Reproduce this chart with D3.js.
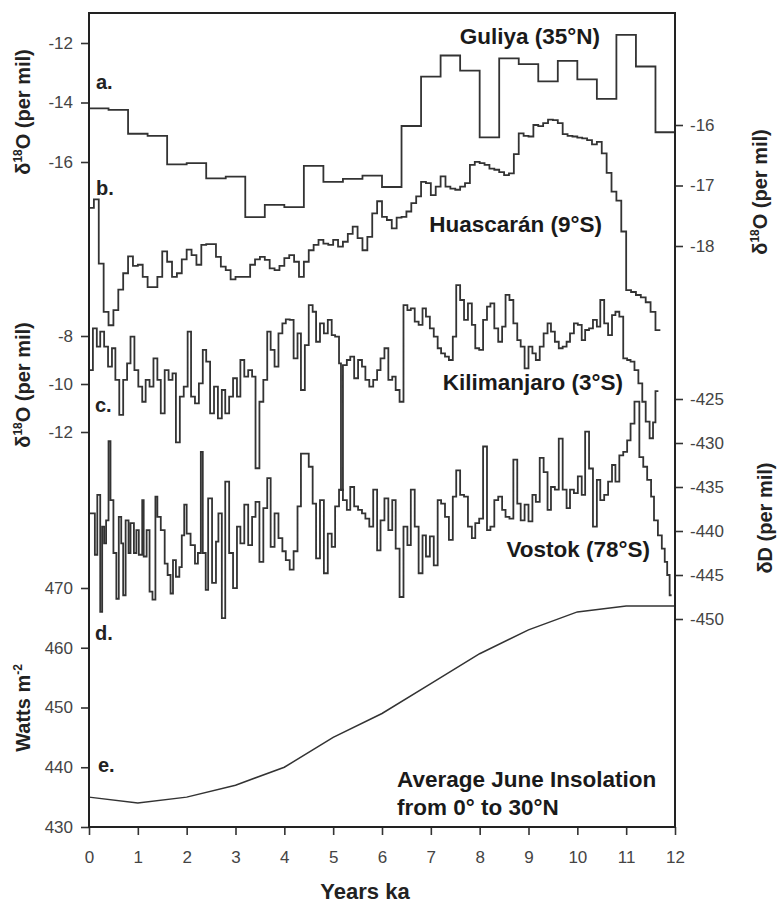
<!DOCTYPE html>
<html>
<head>
<meta charset="utf-8">
<script src="https://cdnjs.cloudflare.com/ajax/libs/d3/7.8.5/d3.min.js"></script>
<style>
body { margin: 0; background: #fff; }
svg text { font-family: "Liberation Sans", Arial, sans-serif; }
</style>
</head>
<body>
<svg id="chart"></svg>
<script>
// ---- data (ages in ka, step edges) ----

// a. Guliya d18O, 400-yr steps
var guliyaAge = [0, 0.4, 0.8, 1.2, 1.6, 2.0, 2.4, 2.8, 3.2, 3.6, 4.0, 4.4, 4.8, 5.2, 5.6, 6.0,
    6.4, 6.8, 7.2, 7.6, 8.0, 8.4, 8.8, 9.2, 9.6, 10.0, 10.4, 10.8, 11.2, 11.6, 12.0];
var guliyaD18O = [-14.2, -14.25, -15.05, -15.12, -16.08, -16.04, -16.55, -16.49, -17.85, -17.44,
    -17.52, -16.13, -16.67, -16.57, -16.46, -16.84, -14.79, -13.13, -12.42, -12.93,
    -15.17, -12.52, -12.71, -13.29, -12.6, -13.22, -13.88, -11.73, -12.79, -15.0];

// b. Huascaran d18O, 100-yr steps
var huascaranAge = [0, 0.1, 0.2, 0.3, 0.4, 0.5, 0.6, 0.7, 0.8, 0.9,
    1.0, 1.1, 1.2, 1.3, 1.4, 1.5, 1.6, 1.7, 1.8, 1.9,
    2.0, 2.1, 2.2, 2.3, 2.4, 2.5, 2.6, 2.7, 2.8, 2.9,
    3.0, 3.1, 3.2, 3.3, 3.4, 3.5, 3.6, 3.7, 3.8, 3.9,
    4.0, 4.1, 4.2, 4.3, 4.4, 4.5, 4.6, 4.7, 4.8, 4.9,
    5.0, 5.1, 5.2, 5.3, 5.4, 5.5, 5.6, 5.7, 5.8, 5.9,
    6.0, 6.1, 6.2, 6.3, 6.4, 6.5, 6.6, 6.7, 6.8, 6.9,
    7.0, 7.1, 7.2, 7.3, 7.4, 7.5, 7.6, 7.7, 7.8, 7.9,
    8.0, 8.1, 8.2, 8.3, 8.4, 8.5, 8.6, 8.7, 8.8, 8.9,
    9.0, 9.1, 9.2, 9.3, 9.4, 9.5, 9.6, 9.7, 9.8, 9.9,
    10.0, 10.1, 10.2, 10.3, 10.4, 10.5, 10.6, 10.7, 10.8, 10.9,
    11.0, 11.1, 11.2, 11.3, 11.4, 11.5, 11.6, 11.7];
var huascaranD18O = [-17.37, -17.23, -18.29, -19.09, -19.31, -19.06, -18.72, -18.45, -18.17, -18.33,
    -18.31, -18.51, -18.68, -18.68, -18.51, -18.09, -18.26, -18.51, -18.45, -18.22,
    -18.06, -18.15, -18.31, -17.98, -17.97, -17.97, -18.18, -18.34, -18.40, -18.55,
    -18.51, -18.51, -18.51, -18.31, -18.22, -18.18, -18.23, -18.37, -18.40, -18.33,
    -18.20, -18.15, -18.26, -18.51, -18.26, -18.07, -17.98, -17.90, -17.96, -17.98,
    -17.90, -18.01, -17.93, -17.80, -17.68, -17.87, -18.07, -17.85, -17.46, -17.26,
    -17.52, -17.57, -17.71, -17.53, -17.52, -17.43, -17.29, -17.18, -16.94, -16.96,
    -17.16, -17.02, -16.85, -17.02, -17.05, -17.07, -17.02, -16.96, -16.66, -16.61,
    -16.63, -16.66, -16.72, -16.74, -16.78, -16.83, -16.80, -16.48, -16.14, -16.18,
    -16.19, -16.00, -16.02, -15.97, -15.91, -15.92, -15.97, -16.15, -16.18, -16.19,
    -16.21, -16.22, -16.25, -16.32, -16.28, -16.47, -16.79, -17.10, -17.25, -17.76,
    -18.73, -18.76, -18.81, -18.85, -18.93, -19.09, -19.39];

// c. Kilimanjaro d18O
var kiliAge = [0.00, 0.08, 0.16, 0.23, 0.31, 0.39, 0.47, 0.54, 0.62, 0.70,
    0.78, 0.85, 0.93, 1.01, 1.09, 1.16, 1.24, 1.32, 1.40, 1.47,
    1.55, 1.63, 1.71, 1.78, 1.86, 1.94, 2.02, 2.09, 2.17, 2.25,
    2.33, 2.40, 2.48, 2.56, 2.64, 2.72, 2.79, 2.87, 2.95, 3.03,
    3.10, 3.18, 3.26, 3.34, 3.41, 3.49, 3.57, 3.65, 3.72, 3.80,
    3.88, 3.96, 4.03, 4.11, 4.19, 4.27, 4.34, 4.42, 4.50, 4.58,
    4.65, 4.73, 4.81, 4.89, 4.97, 5.04, 5.12, 5.16, 5.20, 5.28,
    5.35, 5.43, 5.51, 5.59, 5.66, 5.74, 5.82, 5.90, 5.97, 6.05,
    6.13, 6.21, 6.28, 6.36, 6.44, 6.52, 6.59, 6.67, 6.75, 6.83,
    6.90, 6.98, 7.06, 7.14, 7.21, 7.29, 7.37, 7.45, 7.52, 7.60,
    7.68, 7.76, 7.84, 7.91, 7.99, 8.07, 8.15, 8.22, 8.30, 8.38,
    8.46, 8.53, 8.61, 8.69, 8.77, 8.84, 8.92, 9.00, 9.08, 9.15,
    9.23, 9.31, 9.39, 9.46, 9.54, 9.62, 9.70, 9.78, 9.85, 9.93,
    10.01, 10.09, 10.16, 10.24, 10.32, 10.40, 10.47, 10.55, 10.63, 10.71,
    10.78, 10.86, 10.94, 11.02, 11.09, 11.17, 11.25, 11.33, 11.40, 11.48,
    11.55, 11.60, 11.66];
var kiliD18O = [-9.42, -7.68, -8.44, -7.82, -8.44, -9.28, -8.51, -9.83, -11.29, -9.83,
    -9.14, -8.03, -9.42, -10.11, -10.74, -9.83, -10.11, -8.93, -9.83, -11.22,
    -9.42, -9.83, -9.56, -12.43, -10.53, -10.11, -7.82, -10.53, -10.81, -9.97,
    -8.58, -9.07, -11.22, -10.11, -11.43, -10.25, -11.22, -10.53, -9.76, -10.53,
    -9.00, -9.69, -9.42, -9.69, -13.51, -10.74, -9.83, -7.82, -8.58, -9.28,
    -7.89, -7.47, -7.31, -7.33, -8.93, -7.89, -10.25, -8.38, -6.71, -6.99,
    -8.24, -7.47, -7.89, -7.33, -7.96, -8.03, -9.14, -14.42, -9.21, -9.00,
    -8.86, -9.76, -9.00, -9.28, -9.83, -10.11, -9.83, -9.42, -8.93, -8.51,
    -9.83, -9.69, -10.25, -10.74, -6.71, -6.92, -6.85, -7.40, -7.54, -6.85,
    -7.19, -7.68, -8.03, -8.51, -8.72, -8.86, -9.00, -8.03, -5.88, -6.50,
    -7.33, -6.64, -7.54, -8.51, -8.58, -7.33, -6.78, -6.64, -7.68, -8.24,
    -7.61, -6.29, -6.50, -7.47, -8.17, -8.44, -9.35, -8.44, -8.72, -9.00,
    -8.44, -7.89, -7.47, -7.82, -8.24, -8.51, -8.44, -8.24, -7.89, -7.47,
    -7.54, -8.17, -7.75, -7.68, -7.33, -7.61, -6.50, -7.47, -7.96, -7.13,
    -6.99, -7.19, -8.93, -9.00, -9.07, -9.42, -9.97, -10.74, -11.57, -12.26,
    -11.60, -10.30];

// d. Vostok dD
var vostokAge = [0.00, 0.12, 0.17, 0.23, 0.27, 0.31, 0.35, 0.40, 0.44, 0.50,
    0.56, 0.61, 0.66, 0.70, 0.75, 0.81, 0.85, 0.92, 0.97, 1.02,
    1.09, 1.12, 1.18, 1.24, 1.30, 1.36, 1.40, 1.47, 1.55, 1.61,
    1.67, 1.72, 1.78, 1.85, 1.90, 1.95, 2.00, 2.08, 2.17, 2.23,
    2.29, 2.33, 2.39, 2.44, 2.52, 2.60, 2.65, 2.72, 2.79, 2.87,
    2.95, 3.03, 3.10, 3.18, 3.26, 3.34, 3.41, 3.49, 3.57, 3.65,
    3.72, 3.80, 3.88, 3.96, 4.03, 4.11, 4.19, 4.27, 4.34, 4.50,
    4.58, 4.65, 4.73, 4.81, 4.89, 4.97, 5.04, 5.12, 5.20, 5.28,
    5.35, 5.43, 5.51, 5.59, 5.66, 5.74, 5.82, 5.90, 5.97, 6.05,
    6.13, 6.21, 6.28, 6.36, 6.44, 6.52, 6.59, 6.67, 6.75, 6.83,
    6.90, 6.98, 7.06, 7.14, 7.21, 7.29, 7.37, 7.45, 7.52, 7.60,
    7.68, 7.76, 7.84, 7.91, 7.99, 8.07, 8.15, 8.22, 8.30, 8.38,
    8.46, 8.53, 8.61, 8.69, 8.77, 8.84, 8.92, 9.00, 9.08, 9.15,
    9.23, 9.31, 9.39, 9.46, 9.54, 9.62, 9.70, 9.78, 9.85, 9.93,
    10.01, 10.09, 10.16, 10.24, 10.32, 10.40, 10.47, 10.55, 10.63, 10.71,
    10.78, 10.86, 10.94, 11.02, 11.09, 11.17, 11.27, 11.35, 11.43, 11.51,
    11.57, 11.65, 11.73, 11.79, 11.84, 11.89, 11.93];
var vostokDD = [-438.0, -442.7, -435.9, -449.2, -439.5, -441.4, -438.8, -429.8, -436.5, -442.5,
    -447.7, -438.4, -441.4, -447.3, -438.8, -442.5, -439.1, -442.5, -439.9, -442.7,
    -436.5, -442.9, -439.9, -446.9, -447.8, -436.1, -438.4, -439.9, -443.7, -445.0,
    -447.1, -443.3, -445.2, -444.1, -440.5, -437.0, -440.3, -441.6, -443.7, -442.5,
    -431.0, -442.5, -446.7, -436.3, -445.9, -441.2, -438.0, -449.9, -434.4, -442.5,
    -446.5, -439.5, -441.4, -437.0, -441.6, -438.4, -436.7, -443.5, -437.4, -434.0,
    -441.8, -438.0, -440.8, -442.3, -443.3, -444.4, -442.3, -437.2, -431.2, -432.7,
    -436.9, -443.1, -436.5, -444.8, -440.3, -441.8, -437.2, -435.3, -436.5, -437.6,
    -435.0, -437.2, -437.6, -438.0, -438.6, -439.5, -435.3, -442.2, -438.8, -436.3,
    -439.9, -436.5, -442.0, -447.5, -439.5, -441.6, -435.3, -439.5, -444.8, -440.5,
    -442.9, -440.6, -443.9, -436.5, -436.9, -438.4, -441.0, -436.1, -433.1, -435.9,
    -436.1, -439.5, -440.8, -439.1, -438.6, -430.4, -439.9, -439.5, -436.5, -436.1,
    -437.6, -438.4, -438.6, -431.9, -436.9, -438.8, -437.0, -438.9, -435.9, -436.7,
    -431.7, -433.3, -437.6, -435.0, -435.3, -429.5, -435.3, -437.4, -435.3, -435.7,
    -433.8, -435.9, -428.7, -432.9, -439.5, -434.2, -436.5, -435.9, -434.4, -432.5,
    -434.4, -431.4, -431.0, -429.7, -427.8, -425.3, -431.6, -432.7, -434.2, -436.1,
    -438.8, -440.5, -442.0, -443.5, -445.0, -447.3];

// e. average June insolation 0-30N
var insolAge = [0, 1, 2, 3, 4, 5, 6, 7, 8, 9, 10, 11, 12];
var insolWm2 = [435, 434, 435, 437, 440, 445, 449, 454, 459, 463, 466, 467, 467];

// tick labels
var xTicks = [0, 1, 2, 3, 4, 5, 6, 7, 8, 9, 10, 11, 12];
var guliyaTicks = [-12, -14, -16];
var huascaranTicks = [-16, -17, -18];
var kiliTicks = [-8, -10, -12];
var vostokTicks = [-425, -430, -435, -440, -445, -450];
var insolTicks = [470, 460, 450, 440, 430];

// ---- chart ----
var svgWidth = 778, svgHeight = 903;
var plot = { left: 89, right: 675, top: 13, bottom: 827 };

var svg = d3.select('#chart')
    .attr('width', svgWidth)
    .attr('height', svgHeight);

svg.append('rect').attr('width', svgWidth).attr('height', svgHeight).attr('fill', '#fff');

var x = d3.scaleLinear().domain([0, 12]).range([plot.left, plot.right]);
var yGuliya = d3.scaleLinear().domain([-12, -16]).range([43, 162]);
var yHuascaran = d3.scaleLinear().domain([-16, -18]).range([125, 246]);
var yKili = d3.scaleLinear().domain([-8, -12]).range([336, 432]);
var yVostok = d3.scaleLinear().domain([-425, -450]).range([399, 619]);
var yInsol = d3.scaleLinear().domain([430, 470]).range([827, 588]);

// ages hold step edges, so the last value runs to the last edge
function steps(ages, values) {
    var pts = values.map(function(v, i) { return [ages[i], v]; });
    pts.push([ages[values.length], values[values.length - 1]]);
    return pts;
}

function drawSeries(pts, yScale, curve, width) {
    var line = d3.line()
        .x(function(d) { return x(d[0]); })
        .y(function(d) { return yScale(d[1]); })
        .curve(curve);
    svg.append('path')
        .datum(pts)
        .attr('fill', 'none')
        .attr('stroke', '#333')
        .attr('stroke-width', width)
        .attr('stroke-linejoin', 'miter')
        .attr('d', line);
}

drawSeries(steps(guliyaAge, guliyaD18O), yGuliya, d3.curveStepAfter, 1.8);
drawSeries(steps(huascaranAge, huascaranD18O), yHuascaran, d3.curveStepAfter, 1.8);
drawSeries(steps(kiliAge, kiliD18O), yKili, d3.curveStepAfter, 1.8);
drawSeries(steps(vostokAge, vostokDD), yVostok, d3.curveStepAfter, 1.8);
drawSeries(insolAge.map(function(a, i) { return [a, insolWm2[i]]; }), yInsol, d3.curveLinear, 1.5);

// axes
function fmt(d) { return String(d); }

function styleAxis(g) {
    g.select('.domain').remove();
    g.selectAll('.tick line').attr('stroke', '#333').attr('stroke-width', 1.6);
    g.selectAll('.tick text')
        .attr('fill', '#444')
        .style('font-size', '17px');
}

function leftAxis(scale, ticks) {
    svg.append('g')
        .attr('transform', 'translate(' + plot.left + ',0)')
        .call(d3.axisLeft(scale).tickValues(ticks).tickSize(8).tickPadding(8).tickFormat(fmt))
        .call(styleAxis);
}

function rightAxis(scale, ticks) {
    svg.append('g')
        .attr('transform', 'translate(' + plot.right + ',0)')
        .call(d3.axisRight(scale).tickValues(ticks).tickSize(8).tickPadding(7).tickFormat(fmt))
        .call(styleAxis);
}

leftAxis(yGuliya, guliyaTicks);
leftAxis(yKili, kiliTicks);
leftAxis(yInsol, insolTicks);
rightAxis(yHuascaran, huascaranTicks);
rightAxis(yVostok, vostokTicks);

svg.append('g')
    .attr('transform', 'translate(0,' + plot.bottom + ')')
    .call(d3.axisBottom(x).tickValues(xTicks).tickSize(8).tickPadding(16).tickFormat(fmt))
    .call(styleAxis);

// frame
svg.append('rect')
    .attr('x', plot.left)
    .attr('y', plot.top)
    .attr('width', plot.right - plot.left)
    .attr('height', plot.bottom - plot.top)
    .attr('fill', 'none')
    .attr('stroke', '#222')
    .attr('stroke-width', 2);

// axis titles (rotated)
function d18oTitle(tx, ty) {
    var t = svg.append('text')
        .attr('transform', 'translate(' + tx + ',' + ty + ') rotate(-90)')
        .attr('text-anchor', 'middle')
        .attr('fill', '#222')
        .style('font-size', '20px')
        .style('font-weight', 'bold');
    t.append('tspan').text('δ');
    t.append('tspan').attr('dy', -8).style('font-size', '12px').text('18');
    t.append('tspan').attr('dy', 8).text('O (per mil)');
}
d18oTitle(30, 112);
d18oTitle(30, 385);
d18oTitle(767, 192);

var watts = svg.append('text')
    .attr('transform', 'translate(30,708) rotate(-90)')
    .attr('text-anchor', 'middle')
    .attr('fill', '#222')
    .style('font-size', '20px')
    .style('font-weight', 'bold');
watts.append('tspan').text('Watts m');
watts.append('tspan').attr('dy', -8).style('font-size', '12px').text('-2');

svg.append('text')
    .attr('transform', 'translate(772,518) rotate(-90)')
    .attr('text-anchor', 'middle')
    .attr('fill', '#222')
    .style('font-size', '20px')
    .style('font-weight', 'bold')
    .text('δD (per mil)');

svg.append('text')
    .attr('x', 365)
    .attr('y', 899)
    .attr('text-anchor', 'middle')
    .attr('fill', '#222')
    .style('font-size', '22px')
    .style('font-weight', 'bold')
    .text('Years ka');

// panel letters
var panels = [['a.', 96, 89], ['b.', 96, 195], ['c.', 95, 412], ['d.', 95, 640], ['e.', 98, 772]];
panels.forEach(function(p) {
    svg.append('text')
        .attr('x', p[1]).attr('y', p[2])
        .attr('fill', '#222')
        .style('font-size', '20px')
        .style('font-weight', 'bold')
        .text(p[0]);
});

// series names
var names = [
    ['Guliya (35°N)', 600, 44, 'end'],
    ['Huascarán (9°S)', 602, 232, 'end'],
    ['Kilimanjaro (3°S)', 623, 390, 'end'],
    ['Vostok (78°S)', 650, 557, 'end'],
    ['Average June Insolation', 397, 787, 'start'],
    ['from 0° to 30°N', 397, 815, 'start']
];
names.forEach(function(n) {
    svg.append('text')
        .attr('x', n[1]).attr('y', n[2])
        .attr('text-anchor', n[3])
        .attr('fill', '#1a1a1a')
        .style('font-size', '22.5px')
        .style('font-weight', 'bold')
        .text(n[0]);
});
</script>
</body>
</html>
